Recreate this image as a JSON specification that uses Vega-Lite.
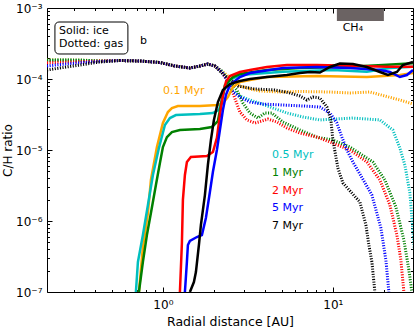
{
"$schema": "https://vega.github.io/schema/vega-lite/v6.json",
"width": 366, "height": 284,
"autosize": {"type": "none"},
"padding": {"left": 47, "top": 8, "right": 2, "bottom": 36},
"config": {"view": {"stroke": "black", "strokeWidth": 1}, "font": "DejaVu Sans",
  "axis": {"labelColor": "black", "tickColor": "black", "titleColor": "black", "grid": false, "domain": false, "labelOverlap": false, "labelFlush": false, "titleFontWeight": "normal"}},
"datasets": {
"ice": [
{"s":"0.1 Myr","x":0.7226,"y":1e-7},{"s":"0.1 Myr","x":0.7626,"y":4.3e-7},{"s":"0.1 Myr","x":0.8163,"y":1.3e-6},{"s":"0.1 Myr","x":0.85,"y":3.78e-6},{"s":"0.1 Myr","x":0.922,"y":1.1e-5},{"s":"0.1 Myr","x":1.0,"y":2.4e-5},{"s":"0.1 Myr","x":1.07,"y":3.43e-5},{"s":"0.1 Myr","x":1.13,"y":3.9e-5},{"s":"0.1 Myr","x":1.225,"y":4.17e-5},{"s":"0.1 Myr","x":1.65,"y":4.17e-5},{"s":"0.1 Myr","x":2.106,"y":4.3e-5},{"s":"0.1 Myr","x":2.254,"y":4.59e-5},{"s":"0.1 Myr","x":2.412,"y":5.58e-5},{"s":"0.1 Myr","x":2.581,"y":7.72e-5},{"s":"0.1 Myr","x":2.837,"y":9.07e-5},{"s":"0.1 Myr","x":3.25,"y":9.68e-5},{"s":"0.1 Myr","x":4.09,"y":1.067e-4},{"s":"0.1 Myr","x":8.05,"y":1.102e-4},{"s":"0.1 Myr","x":15.85,"y":1.067e-4},{"s":"0.1 Myr","x":24.78,"y":1.138e-4},{"s":"0.1 Myr","x":29.6,"y":1.215e-4},
{"s":"0.5 Myr","x":0.6936,"y":1e-7},{"s":"0.5 Myr","x":0.7128,"y":2.65e-7},{"s":"0.5 Myr","x":0.7626,"y":6.35e-7},{"s":"0.5 Myr","x":0.8163,"y":1.68e-6},{"s":"0.5 Myr","x":0.8733,"y":4.45e-6},{"s":"0.5 Myr","x":0.9473,"y":1.067e-5},{"s":"0.5 Myr","x":1.0275,"y":2.25e-5},{"s":"0.5 Myr","x":1.0995,"y":2.82e-5},{"s":"0.5 Myr","x":1.1925,"y":3.11e-5},{"s":"0.5 Myr","x":1.65,"y":3.21e-5},{"s":"0.5 Myr","x":1.968,"y":3.32e-5},{"s":"0.5 Myr","x":2.135,"y":3.66e-5},{"s":"0.5 Myr","x":2.2235,"y":5.06e-5},{"s":"0.5 Myr","x":2.3156,"y":7.47e-5},{"s":"0.5 Myr","x":2.478,"y":9.68e-5},{"s":"0.5 Myr","x":2.837,"y":1.138e-4},{"s":"0.5 Myr","x":5.08,"y":1.267e-4},{"s":"0.5 Myr","x":10,"y":1.338e-4},{"s":"0.5 Myr","x":15.85,"y":1.267e-4},{"s":"0.5 Myr","x":21.64,"y":1.429e-4},{"s":"0.5 Myr","x":29.6,"y":1.49e-4},
{"s":"1 Myr","x":0.7226,"y":1e-7},{"s":"1 Myr","x":0.7626,"y":2.65e-7},{"s":"1 Myr","x":0.805,"y":6.35e-7},{"s":"1 Myr","x":0.85,"y":1.3e-6},{"s":"1 Myr","x":0.9095,"y":3.21e-6},{"s":"1 Myr","x":0.9602,"y":6.56e-6},{"s":"1 Myr","x":1.0,"y":1.1e-5},{"s":"1 Myr","x":1.0557,"y":1.52e-5},{"s":"1 Myr","x":1.1296,"y":1.79e-5},{"s":"1 Myr","x":1.2589,"y":1.91e-5},{"s":"1 Myr","x":1.65,"y":1.98e-5},{"s":"1 Myr","x":1.9416,"y":2.11e-5},{"s":"1 Myr","x":2.1063,"y":2.56e-5},{"s":"1 Myr","x":2.2235,"y":5.06e-5},{"s":"1 Myr","x":2.3156,"y":8.23e-5},{"s":"1 Myr","x":2.5807,"y":1.067e-4},{"s":"1 Myr","x":2.837,"y":1.176e-4},{"s":"1 Myr","x":4.09,"y":1.338e-4},{"s":"1 Myr","x":6.397,"y":1.429e-4},{"s":"1 Myr","x":12.589,"y":1.49e-4},{"s":"1 Myr","x":19.69,"y":1.575e-4},{"s":"1 Myr","x":29.6,"y":1.664e-4},
{"s":"2 Myr","x":1.2589,"y":1e-7},{"s":"2 Myr","x":1.2934,"y":4.9e-7},{"s":"2 Myr","x":1.311,"y":1.98e-6},{"s":"2 Myr","x":1.3471,"y":4.45e-6},{"s":"2 Myr","x":1.384,"y":6.78e-6},{"s":"2 Myr","x":1.461,"y":7.97e-6},{"s":"2 Myr","x":1.8145,"y":8.23e-6},{"s":"2 Myr","x":1.968,"y":9.37e-6},{"s":"2 Myr","x":2.078,"y":1.48e-5},{"s":"2 Myr","x":2.164,"y":3.11e-5},{"s":"2 Myr","x":2.254,"y":5.95e-5},{"s":"2 Myr","x":2.347,"y":9.07e-5},{"s":"2 Myr","x":2.478,"y":1.102e-4},{"s":"2 Myr","x":2.837,"y":1.255e-4},{"s":"2 Myr","x":3.25,"y":1.338e-4},{"s":"2 Myr","x":4.09,"y":1.476e-4},{"s":"2 Myr","x":5.364,"y":1.575e-4},{"s":"2 Myr","x":8.052,"y":1.575e-4},{"s":"2 Myr","x":12.589,"y":1.54e-4},{"s":"2 Myr","x":20.78,"y":1.49e-4},{"s":"2 Myr","x":29.6,"y":1.49e-4},
{"s":"5 Myr","x":1.3471,"y":1e-7},{"s":"5 Myr","x":1.384,"y":2.65e-7},{"s":"5 Myr","x":1.403,"y":4.59e-7},{"s":"5 Myr","x":1.4414,"y":5.23e-7},{"s":"5 Myr","x":1.585,"y":5.95e-7},{"s":"5 Myr","x":1.696,"y":6.35e-7},{"s":"5 Myr","x":1.79,"y":1.1e-6},{"s":"5 Myr","x":1.8897,"y":2.56e-6},{"s":"5 Myr","x":1.968,"y":4.9e-6},{"s":"5 Myr","x":2.078,"y":1e-5},{"s":"5 Myr","x":2.164,"y":1.91e-5},{"s":"5 Myr","x":2.254,"y":3.66e-5},{"s":"5 Myr","x":2.347,"y":5.95e-5},{"s":"5 Myr","x":2.478,"y":8.23e-5},{"s":"5 Myr","x":2.837,"y":1.067e-4},{"s":"5 Myr","x":3.25,"y":1.215e-4},{"s":"5 Myr","x":5.08,"y":1.429e-4},{"s":"5 Myr","x":8.052,"y":1.476e-4},{"s":"5 Myr","x":12.589,"y":1.429e-4},{"s":"5 Myr","x":18.904,"y":1.338e-4},{"s":"5 Myr","x":21.64,"y":1.255e-4},{"s":"5 Myr","x":24.78,"y":1.067e-4},{"s":"5 Myr","x":27.24,"y":1.138e-4},{"s":"5 Myr","x":29.6,"y":1.338e-4},
{"s":"7 Myr","x":1.4414,"y":1e-7},{"s":"7 Myr","x":1.5218,"y":1.38e-7},{"s":"7 Myr","x":1.5637,"y":1.91e-7},{"s":"7 Myr","x":1.6284,"y":4.59e-7},{"s":"7 Myr","x":1.6731,"y":8.78e-7},{"s":"7 Myr","x":1.7661,"y":2.32e-6},{"s":"7 Myr","x":1.8392,"y":6.15e-6},{"s":"7 Myr","x":1.9155,"y":1.38e-5},{"s":"7 Myr","x":1.9953,"y":2.65e-5},{"s":"7 Myr","x":2.1063,"y":4.74e-5},{"s":"7 Myr","x":2.2538,"y":7.0e-5},{"s":"7 Myr","x":2.478,"y":8.5e-5},{"s":"7 Myr","x":2.837,"y":9.37e-5},{"s":"7 Myr","x":3.25,"y":1e-4},{"s":"7 Myr","x":4.09,"y":1.067e-4},{"s":"7 Myr","x":5.364,"y":1.138e-4},{"s":"7 Myr","x":6.397,"y":1.215e-4},{"s":"7 Myr","x":7.323,"y":1.255e-4},{"s":"7 Myr","x":8.3845,"y":1.234e-4},{"s":"7 Myr","x":9.603,"y":1.476e-4},{"s":"7 Myr","x":10.995,"y":1.653e-4},{"s":"7 Myr","x":13.11,"y":1.627e-4},{"s":"7 Myr","x":15.849,"y":1.476e-4},{"s":"7 Myr","x":18.904,"y":1.255e-4},{"s":"7 Myr","x":21.063,"y":1.138e-4},{"s":"7 Myr","x":23.796,"y":1.255e-4},{"s":"7 Myr","x":25.807,"y":1.575e-4},{"s":"7 Myr","x":29.6,"y":1.735e-4}
],
"gas": [
{"s":"0.1 Myr","x":0.208,"y":1.852e-4},{"s":"0.1 Myr","x":0.2477,"y":1.852e-4},{"s":"0.1 Myr","x":0.3249,"y":1.852e-4},{"s":"0.1 Myr","x":0.4259,"y":1.793e-4},{"s":"0.1 Myr","x":0.5586,"y":1.822e-4},{"s":"0.1 Myr","x":0.7324,"y":1.793e-4},{"s":"0.1 Myr","x":0.9602,"y":1.708e-4},{"s":"0.1 Myr","x":1.1764,"y":1.524e-4},{"s":"0.1 Myr","x":1.4414,"y":1.429e-4},{"s":"0.1 Myr","x":1.6506,"y":1.524e-4},{"s":"0.1 Myr","x":1.8392,"y":1.627e-4},{"s":"0.1 Myr","x":2.0225,"y":1.524e-4},{"s":"0.1 Myr","x":2.2235,"y":1.297e-4},{"s":"0.1 Myr","x":2.4116,"y":1.102e-4},{"s":"0.1 Myr","x":2.5807,"y":9.37e-5},{"s":"0.1 Myr","x":2.837,"y":7.97e-5},{"s":"0.1 Myr","x":3.25,"y":7.23e-5},{"s":"0.1 Myr","x":3.72,"y":6.78e-5},{"s":"0.1 Myr","x":4.877,"y":6.56e-5},{"s":"0.1 Myr","x":6.397,"y":6.67e-5},{"s":"0.1 Myr","x":9.603,"y":6.56e-5},{"s":"0.1 Myr","x":12.589,"y":6.35e-5},{"s":"0.1 Myr","x":16.506,"y":6.56e-5},{"s":"0.1 Myr","x":20.225,"y":5.76e-5},{"s":"0.1 Myr","x":24.78,"y":5.06e-5},{"s":"0.1 Myr","x":29.6,"y":4.45e-5},
{"s":"0.5 Myr","x":0.208,"y":1.822e-4},{"s":"0.5 Myr","x":0.2477,"y":1.834e-4},{"s":"0.5 Myr","x":0.3249,"y":1.84e-4},{"s":"0.5 Myr","x":0.4259,"y":1.793e-4},{"s":"0.5 Myr","x":0.5586,"y":1.822e-4},{"s":"0.5 Myr","x":0.7324,"y":1.793e-4},{"s":"0.5 Myr","x":0.9602,"y":1.708e-4},{"s":"0.5 Myr","x":1.1764,"y":1.524e-4},{"s":"0.5 Myr","x":1.4414,"y":1.429e-4},{"s":"0.5 Myr","x":1.6506,"y":1.524e-4},{"s":"0.5 Myr","x":1.8392,"y":1.627e-4},{"s":"0.5 Myr","x":2.0225,"y":1.524e-4},{"s":"0.5 Myr","x":2.2235,"y":1.297e-4},{"s":"0.5 Myr","x":2.4116,"y":9.68e-5},{"s":"0.5 Myr","x":2.546,"y":7.0e-5},{"s":"0.5 Myr","x":2.837,"y":5.76e-5},{"s":"0.5 Myr","x":3.25,"y":5.06e-5},{"s":"0.5 Myr","x":3.822,"y":4.45e-5},{"s":"0.5 Myr","x":4.437,"y":3.9e-5},{"s":"0.5 Myr","x":5.364,"y":3.32e-5},{"s":"0.5 Myr","x":6.661,"y":2.92e-5},{"s":"0.5 Myr","x":8.3845,"y":2.65e-5},{"s":"0.5 Myr","x":13.11,"y":2.82e-5},{"s":"0.5 Myr","x":18.904,"y":2.65e-5},{"s":"0.5 Myr","x":22.538,"y":1.91e-5},{"s":"0.5 Myr","x":24.78,"y":1.067e-5},{"s":"0.5 Myr","x":26.514,"y":6.15e-6},{"s":"0.5 Myr","x":28.374,"y":2.48e-6},{"s":"0.5 Myr","x":29.556,"y":7.47e-7},{"s":"0.5 Myr","x":30.77,"y":2.04e-7},
{"s":"1 Myr","x":0.208,"y":1.852e-4},{"s":"1 Myr","x":0.2477,"y":1.852e-4},{"s":"1 Myr","x":0.3249,"y":1.84e-4},{"s":"1 Myr","x":0.4259,"y":1.793e-4},{"s":"1 Myr","x":0.5586,"y":1.822e-4},{"s":"1 Myr","x":0.7324,"y":1.793e-4},{"s":"1 Myr","x":0.9602,"y":1.708e-4},{"s":"1 Myr","x":1.1764,"y":1.524e-4},{"s":"1 Myr","x":1.4414,"y":1.429e-4},{"s":"1 Myr","x":1.6506,"y":1.524e-4},{"s":"1 Myr","x":1.8392,"y":1.627e-4},{"s":"1 Myr","x":2.0225,"y":1.524e-4},{"s":"1 Myr","x":2.2235,"y":1.255e-4},{"s":"1 Myr","x":2.4116,"y":9.68e-5},{"s":"1 Myr","x":2.724,"y":7.0e-5},{"s":"1 Myr","x":2.9554,"y":4.59e-5},{"s":"1 Myr","x":3.25,"y":3.32e-5},{"s":"1 Myr","x":3.621,"y":2.82e-5},{"s":"1 Myr","x":3.981,"y":3.32e-5},{"s":"1 Myr","x":4.377,"y":3.32e-5},{"s":"1 Myr","x":5.08,"y":2.48e-5},{"s":"1 Myr","x":6.397,"y":1.91e-5},{"s":"1 Myr","x":8.052,"y":1.52e-5},{"s":"1 Myr","x":10,"y":1.38e-5},{"s":"1 Myr","x":12.589,"y":1.1e-5},{"s":"1 Myr","x":17.19,"y":6.78e-6},{"s":"1 Myr","x":20.225,"y":3.78e-6},{"s":"1 Myr","x":23.48,"y":1.575e-6},{"s":"1 Myr","x":26.16,"y":5.4e-7},{"s":"1 Myr","x":28.0,"y":2.04e-7},{"s":"1 Myr","x":29.16,"y":1e-7},
{"s":"2 Myr","x":0.208,"y":1.697e-4},{"s":"2 Myr","x":0.2477,"y":1.721e-4},{"s":"2 Myr","x":0.3249,"y":1.747e-4},{"s":"2 Myr","x":0.4259,"y":1.793e-4},{"s":"2 Myr","x":0.5586,"y":1.822e-4},{"s":"2 Myr","x":0.7324,"y":1.793e-4},{"s":"2 Myr","x":0.9602,"y":1.708e-4},{"s":"2 Myr","x":1.1764,"y":1.524e-4},{"s":"2 Myr","x":1.4414,"y":1.429e-4},{"s":"2 Myr","x":1.6506,"y":1.524e-4},{"s":"2 Myr","x":1.8392,"y":1.627e-4},{"s":"2 Myr","x":2.0225,"y":1.524e-4},{"s":"2 Myr","x":2.2235,"y":1.255e-4},{"s":"2 Myr","x":2.4116,"y":9.07e-5},{"s":"2 Myr","x":2.5807,"y":6.35e-5},{"s":"2 Myr","x":2.837,"y":3.43e-5},{"s":"2 Myr","x":3.12,"y":2.65e-5},{"s":"2 Myr","x":3.477,"y":2.4e-5},{"s":"2 Myr","x":3.822,"y":2.56e-5},{"s":"2 Myr","x":4.146,"y":2.73e-5},{"s":"2 Myr","x":4.684,"y":2.48e-5},{"s":"2 Myr","x":5.364,"y":2.04e-5},{"s":"2 Myr","x":6.397,"y":1.73e-5},{"s":"2 Myr","x":8.052,"y":1.52e-5},{"s":"2 Myr","x":10,"y":1.25e-5},{"s":"2 Myr","x":12.589,"y":1e-5},{"s":"2 Myr","x":15.849,"y":6.78e-6},{"s":"2 Myr","x":18.904,"y":3.78e-6},{"s":"2 Myr","x":21.641,"y":1.68e-6},{"s":"2 Myr","x":23.796,"y":6.35e-7},{"s":"2 Myr","x":25.12,"y":2.82e-7},{"s":"2 Myr","x":26.16,"y":1e-7},
{"s":"5 Myr","x":0.208,"y":1.524e-4},{"s":"5 Myr","x":0.2477,"y":1.6e-4},{"s":"5 Myr","x":0.3249,"y":1.691e-4},{"s":"5 Myr","x":0.4259,"y":1.764e-4},{"s":"5 Myr","x":0.5586,"y":1.822e-4},{"s":"5 Myr","x":0.7324,"y":1.793e-4},{"s":"5 Myr","x":0.9602,"y":1.708e-4},{"s":"5 Myr","x":1.1764,"y":1.524e-4},{"s":"5 Myr","x":1.4414,"y":1.429e-4},{"s":"5 Myr","x":1.6506,"y":1.524e-4},{"s":"5 Myr","x":1.8392,"y":1.627e-4},{"s":"5 Myr","x":2.0225,"y":1.524e-4},{"s":"5 Myr","x":2.2235,"y":1.255e-4},{"s":"5 Myr","x":2.4116,"y":9.07e-5},{"s":"5 Myr","x":2.5807,"y":6.56e-5},{"s":"5 Myr","x":2.837,"y":5.58e-5},{"s":"5 Myr","x":3.25,"y":4.74e-5},{"s":"5 Myr","x":3.822,"y":4.45e-5},{"s":"5 Myr","x":5.08,"y":4.3e-5},{"s":"5 Myr","x":6.661,"y":4.17e-5},{"s":"5 Myr","x":8.3845,"y":4.03e-5},{"s":"5 Myr","x":9.603,"y":3.32e-5},{"s":"5 Myr","x":10.556,"y":2.4e-5},{"s":"5 Myr","x":11.296,"y":1.52e-5},{"s":"5 Myr","x":12.089,"y":1e-5},{"s":"5 Myr","x":13.11,"y":6.78e-6},{"s":"5 Myr","x":14.415,"y":4.59e-6},{"s":"5 Myr","x":16.961,"y":2.32e-6},{"s":"5 Myr","x":19.16,"y":7.97e-7},{"s":"5 Myr","x":20.5,"y":2.82e-7},{"s":"5 Myr","x":21.35,"y":1e-7},
{"s":"7 Myr","x":0.208,"y":1.338e-4},{"s":"7 Myr","x":0.2477,"y":1.429e-4},{"s":"7 Myr","x":0.3249,"y":1.575e-4},{"s":"7 Myr","x":0.4259,"y":1.735e-4},{"s":"7 Myr","x":0.5586,"y":1.822e-4},{"s":"7 Myr","x":0.7324,"y":1.793e-4},{"s":"7 Myr","x":0.9602,"y":1.708e-4},{"s":"7 Myr","x":1.1764,"y":1.524e-4},{"s":"7 Myr","x":1.4414,"y":1.429e-4},{"s":"7 Myr","x":1.6506,"y":1.524e-4},{"s":"7 Myr","x":1.8392,"y":1.627e-4},{"s":"7 Myr","x":2.0225,"y":1.524e-4},{"s":"7 Myr","x":2.2235,"y":1.215e-4},{"s":"7 Myr","x":2.4116,"y":1.033e-4},{"s":"7 Myr","x":2.761,"y":7.97e-5},{"s":"7 Myr","x":3.477,"y":7.23e-5},{"s":"7 Myr","x":4.559,"y":7.0e-5},{"s":"7 Myr","x":5.586,"y":6.35e-5},{"s":"7 Myr","x":6.397,"y":5.76e-5},{"s":"7 Myr","x":7.033,"y":5.06e-5},{"s":"7 Myr","x":7.629,"y":5.58e-5},{"s":"7 Myr","x":8.3845,"y":5.4e-5},{"s":"7 Myr","x":9.22,"y":4.03e-5},{"s":"7 Myr","x":9.732,"y":2.65e-5},{"s":"7 Myr","x":10,"y":1.38e-5},{"s":"7 Myr","x":10.7,"y":5.58e-6},{"s":"7 Myr","x":11.454,"y":3.43e-6},{"s":"7 Myr","x":12.935,"y":2.48e-6},{"s":"7 Myr","x":14.415,"y":1.85e-6},{"s":"7 Myr","x":15.637,"y":8.78e-7},{"s":"7 Myr","x":16.284,"y":4.59e-7},{"s":"7 Myr","x":16.961,"y":2.65e-7},{"s":"7 Myr","x":17.661,"y":1e-7}
],
"labels": [
{"t":"0.1 Myr","x":1.0,"y":6.78e-5,"c":"#FFA500"},
{"t":"0.5 Myr","x":4.377,"y":8.5e-6,"c":"#00BFBF"},
{"t":"1 Myr","x":4.377,"y":4.74e-6,"c":"#008000"},
{"t":"2 Myr","x":4.377,"y":2.65e-6,"c":"#FF0000"},
{"t":"5 Myr","x":4.377,"y":1.52e-6,"c":"#0000FF"},
{"t":"7 Myr","x":4.377,"y":8.5e-7,"c":"#000000"},
{"t":"Solid: ice","x":0.2445,"y":4.74e-4,"c":"#000000"},
{"t":"Dotted: gas","x":0.2445,"y":3.11e-4,"c":"#000000"},
{"t":"b","x":0.732,"y":3.43e-4,"c":"#000000"}
],
"legendbox": [{"x":0.2316,"x2":0.6223,"y":6.35e-4,"y2":2.25e-4}],
"bar": [{"x":10.556,"x2":19.953,"y":9.68e-4,"y2":6.56e-4}],
"notes": [{"t":"CH₄","x":13.11,"y":5.23e-4}]
},
"layer": [
{
 "data": {"name": "gas"},
 "mark": {"type": "line", "strokeWidth": 3, "strokeDash": [1.1, 1.5], "strokeCap": "butt", "clip": true},
 "encoding": {
  "x": {"field": "x", "type": "quantitative", "scale": {"type": "log", "domain": [0.208, 29.6], "nice": false},
   "axis": {"orient": "bottom", "title": "Radial distance [AU]", "titleFontSize": 12.5, "titlePadding": 3, "labelFontSize": 12, "labelPadding": 12,
    "values": [0.3,0.4,0.5,0.6,0.7,0.8,0.9,1,2,3,4,5,6,7,8,9,10,20],
    "labelExpr": "datum.value == 1 ? '10⁰' : (datum.value == 10 ? '10¹' : '')",
    "tickSize": {"condition": {"test": "datum.value == 1 || datum.value == 10", "value": -5}, "value": -2.5}}},
  "y": {"field": "y", "type": "quantitative", "scale": {"type": "log", "domain": [1e-7, 0.001], "nice": false},
   "axis": {"orient": "left", "title": "C/H ratio", "titleFontSize": 12, "titlePadding": 1, "labelFontSize": 12, "labelPadding": 10,
    "values": [1e-7,2e-7,3e-7,4e-7,5e-7,6e-7,7e-7,8e-7,9e-7,1e-6,2e-6,3e-6,4e-6,5e-6,6e-6,7e-6,8e-6,9e-6,1e-5,2e-5,3e-5,4e-5,5e-5,6e-5,7e-5,8e-5,9e-5,1e-4,2e-4,3e-4,4e-4,5e-4,6e-4,7e-4,8e-4,9e-4,1e-3],
    "labelExpr": "abs(log(datum.value)/LN10 - round(log(datum.value)/LN10)) < 0.001 ? '10⁻' + ['⁰','¹','²','³','⁴','⁵','⁶','⁷','⁸','⁹'][abs(round(log(datum.value)/LN10))] : ''",
    "tickSize": {"condition": {"test": "abs(log(datum.value)/LN10 - round(log(datum.value)/LN10)) < 0.001", "value": -5}, "value": -2.5}}},
  "color": {"field": "s", "type": "nominal", "scale": {"domain": ["0.1 Myr","0.5 Myr","1 Myr","2 Myr","5 Myr","7 Myr"], "range": ["#FFA500","#00BFBF","#008000","#FF0000","#0000FF","#000000"]}, "legend": null}
 }
},
{
 "data": {"name": "ice"},
 "mark": {"type": "line", "strokeWidth": 2.5, "clip": true},
 "encoding": {
  "x": {"field": "x", "type": "quantitative",
   "axis": {"orient": "top", "title": null, "labels": false,
    "values": [0.3,0.4,0.5,0.6,0.7,0.8,0.9,1,2,3,4,5,6,7,8,9,10,20],
    "tickSize": {"condition": {"test": "datum.value == 1 || datum.value == 10", "value": -5}, "value": -2.5}}},
  "y": {"field": "y", "type": "quantitative",
   "axis": {"orient": "right", "title": null, "labels": false,
    "values": [1e-7,2e-7,3e-7,4e-7,5e-7,6e-7,7e-7,8e-7,9e-7,1e-6,2e-6,3e-6,4e-6,5e-6,6e-6,7e-6,8e-6,9e-6,1e-5,2e-5,3e-5,4e-5,5e-5,6e-5,7e-5,8e-5,9e-5,1e-4,2e-4,3e-4,4e-4,5e-4,6e-4,7e-4,8e-4,9e-4,1e-3],
    "tickSize": {"condition": {"test": "abs(log(datum.value)/LN10 - round(log(datum.value)/LN10)) < 0.001", "value": -5}, "value": -2.5}}},
  "color": {"field": "s", "type": "nominal", "legend": null}
 }
},
{
 "data": {"name": "legendbox"},
 "mark": {"type": "rect", "cornerRadius": 4, "fill": "white", "stroke": "black", "strokeWidth": 1},
 "encoding": {
  "x": {"field": "x", "type": "quantitative", "axis": null},
  "x2": {"field": "x2"},
  "y": {"field": "y", "type": "quantitative", "axis": null},
  "y2": {"field": "y2"}
 }
},
{
 "data": {"name": "bar"},
 "mark": {"type": "rect", "fill": "#6b6363"},
 "encoding": {
  "x": {"field": "x", "type": "quantitative", "axis": null},
  "x2": {"field": "x2"},
  "y": {"field": "y", "type": "quantitative", "axis": null},
  "y2": {"field": "y2"}
 }
},
{
 "data": {"name": "labels"},
 "mark": {"type": "text", "align": "left", "baseline": "middle", "fontSize": 11},
 "encoding": {
  "x": {"field": "x", "type": "quantitative", "axis": null},
  "y": {"field": "y", "type": "quantitative", "axis": null},
  "text": {"field": "t"},
  "color": {"field": "c", "type": "nominal", "scale": null}
 }
},
{
 "data": {"name": "notes"},
 "mark": {"type": "text", "align": "center", "baseline": "middle", "fontSize": 11, "color": "black"},
 "encoding": {
  "x": {"field": "x", "type": "quantitative", "axis": null},
  "y": {"field": "y", "type": "quantitative", "axis": null},
  "text": {"field": "t"}
 }
}
],
"resolve": {"axis": {"x": "independent", "y": "independent"}}
}
